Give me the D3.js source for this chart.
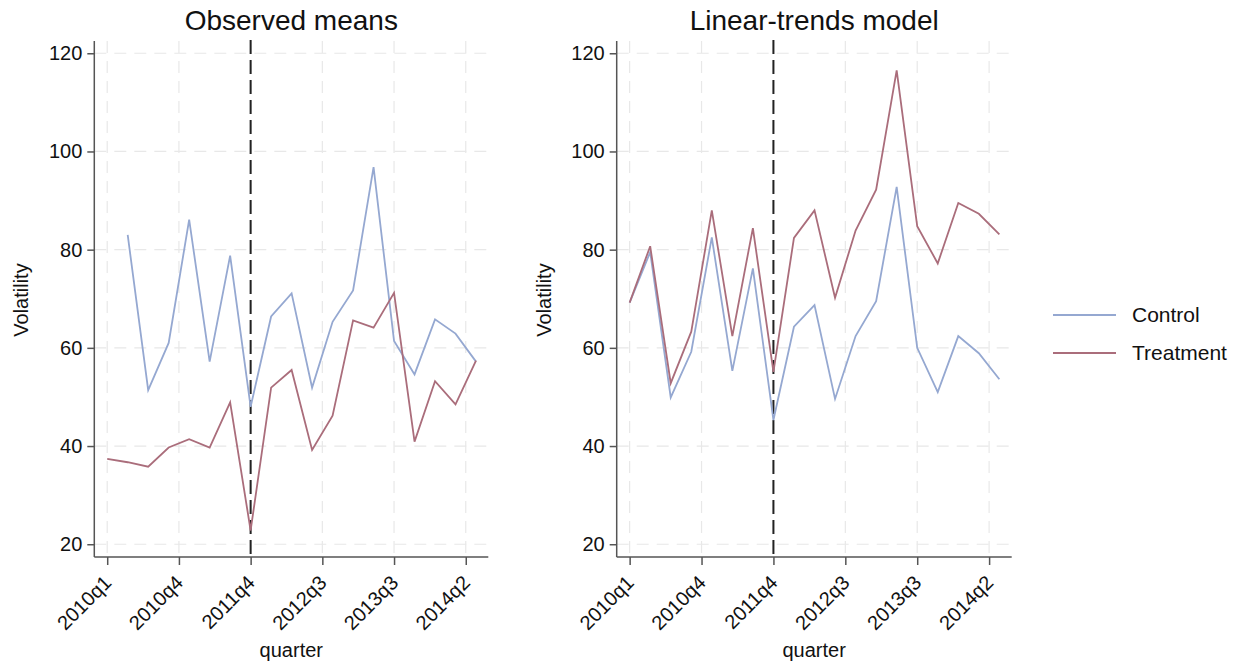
<!DOCTYPE html>
<html>
<head>
<meta charset="utf-8">
<script src="https://cdn.jsdelivr.net/npm/d3@7"></script>
<style>
  body { margin: 0; background: #fff; }
  text { font-family: "Liberation Sans", Arial, Helvetica, sans-serif; fill: #111; }
</style>
</head>
<body>
<svg id="chart" width="1244" height="665"></svg>
<script>
// quarters, 2010q1 .. 2014q3
var quarters = ["2010q1","2010q2","2010q3","2010q4","2011q1","2011q2","2011q3","2011q4",
  "2012q1","2012q2","2012q3","2012q4","2013q1","2013q2","2013q3","2013q4",
  "2014q1","2014q2","2014q3"];

// observed means
var obsControl   = [null, 83, 51.4, 61, 86.1, 57.2, 78.8, 48, 66.4, 71.1, 51.9, 65.3, 71.7, 96.8, 61.4, 54.6, 65.8, 62.9, 57.2];
var obsTreatment = [37.4, 36.7, 35.8, 39.7, 41.4, 39.7, 48.9, 22.8, 51.9, 55.5, 39.2, 46.2, 65.6, 64.1, 71.2, 40.9, 53.2, 48.5, 57.4];

// linear-trends model
var ltControl   = [69.2, 79.5, 49.9, 59.2, 82.5, 55.3, 76.2, 45.3, 64.3, 68.7, 49.6, 62.4, 69.5, 92.8, 60.0, 51.0, 62.4, 58.9, 53.6];
var ltTreatment = [69.2, 80.7, 52.8, 63.3, 88.0, 62.4, 84.4, 55.1, 82.4, 88.0, 70.2, 83.9, 92.2, 116.5, 84.8, 77.2, 89.5, 87.3, 83.1];

var xTicks = [0, 3.5, 7, 10.5, 14, 17.5];   // label = floor -> quarter
var yTicks = [20, 40, 60, 80, 100, 120];
var treatStart = 7;                          // 2011q4

var blue = "#95a8d1", red = "#aa6d7b";
var svg = d3.select("#chart");

function drawPanel(left, right, title, control, treatment) {
    var top = 41, bottom = 557;
    var x = d3.scaleLinear().domain([-0.63, 18.6]).range([left, right]);
    var y = d3.scaleLinear().domain([17.4, 122.5]).range([bottom, top]);
    var g = svg.append("g");

    // grid
    g.selectAll(".hg").data(yTicks).enter().append("line")
        .attr("x1", left).attr("x2", right)
        .attr("y1", function(d){ return y(d); }).attr("y2", function(d){ return y(d); })
        .attr("stroke", "#e8e8e8").attr("stroke-width", 1.2).attr("stroke-dasharray", "12,8");
    g.selectAll(".vg").data(xTicks).enter().append("line")
        .attr("x1", function(d){ return x(d); }).attr("x2", function(d){ return x(d); })
        .attr("y1", top).attr("y2", bottom)
        .attr("stroke", "#e8e8e8").attr("stroke-width", 1.2).attr("stroke-dasharray", "12,8");

    // axes
    var ya = g.append("g").attr("transform", "translate(" + left + ",0)")
        .call(d3.axisLeft(y).tickValues(yTicks).tickSize(7).tickPadding(5));
    var xa = g.append("g").attr("transform", "translate(0," + bottom + ")")
        .call(d3.axisBottom(x).tickValues(xTicks).tickSize(8)
            .tickFormat(function(d){ return quarters[Math.floor(d)]; }));
    [ya, xa].forEach(function(a){
        a.select(".domain").attr("stroke", "#555").attr("stroke-width", 1.5)
            .attr("d", a === ya ? "M0," + top + "V" + bottom : "M" + left + ",0H" + right);
        a.selectAll(".tick line").attr("stroke", "#555").attr("stroke-width", 1.5);
        a.selectAll("text").attr("fill", "#111");
    });
    ya.selectAll("text").style("font-size", "20px");
    xa.selectAll(".tick text")
        .style("font-size", "20px")
        .attr("text-anchor", "end")
        .attr("x", 0).attr("y", 0).attr("dy", 0)
        .attr("transform", "translate(5,27) rotate(-45)");

    // treatment start
    g.append("line")
        .attr("x1", x(treatStart)).attr("x2", x(treatStart))
        .attr("y1", top - 1).attr("y2", bottom)
        .attr("stroke", "#222").attr("stroke-width", 2).attr("stroke-dasharray", "14,6");

    var line = d3.line()
        .defined(function(d){ return d != null; })
        .x(function(d, i){ return x(i); })
        .y(function(d){ return y(d); });

    g.append("path").attr("d", line(control)).attr("fill", "none")
        .attr("stroke", blue).attr("stroke-width", 1.8);
    g.append("path").attr("d", line(treatment)).attr("fill", "none")
        .attr("stroke", red).attr("stroke-width", 1.8);

    // titles
    g.append("text").attr("x", (left + right) / 2).attr("y", 30)
        .attr("text-anchor", "middle").style("font-size", "28px").text(title);
    g.append("text").attr("x", (left + right) / 2).attr("y", 657)
        .attr("text-anchor", "middle").style("font-size", "20px").text("quarter");
    g.append("text").attr("transform", "translate(" + (left - 66) + ",300) rotate(-90)")
        .attr("text-anchor", "middle").style("font-size", "20px").text("Volatility");
}

drawPanel(94.3, 488.3, "Observed means", obsControl, obsTreatment);
drawPanel(616.7, 1011.7, "Linear-trends model", ltControl, ltTreatment);

// legend
var legend = svg.append("g");
[["Control", blue], ["Treatment", red]].forEach(function(d, i){
    var ly = 315 + i * 38;
    legend.append("line").attr("x1", 1053).attr("x2", 1116).attr("y1", ly).attr("y2", ly)
        .attr("stroke", d[1]).attr("stroke-width", 2);
    legend.append("text").attr("x", 1132).attr("y", ly).attr("dy", "0.35em")
        .style("font-size", "21px").text(d[0]);
});
</script>
</body>
</html>
